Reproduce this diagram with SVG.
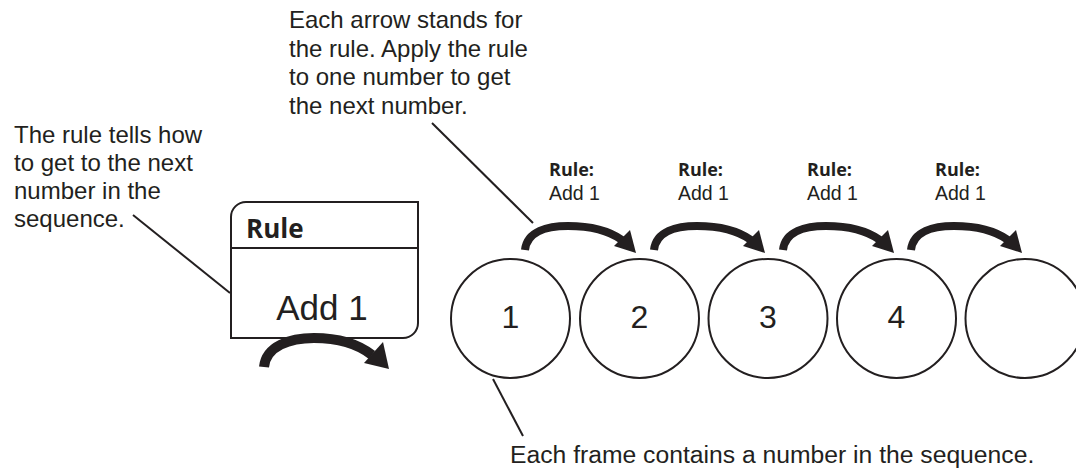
<svg xmlns="http://www.w3.org/2000/svg" width="1076" height="470" viewBox="0 0 1076 470">
<defs>
<style>
.txt{font-family:"Liberation Sans",Arial,sans-serif;fill:#231f20}
.note{font-size:24px}
.bold{font-family:"Open Sans","Noto Sans",sans-serif;font-weight:bold;fill:#231f20}
.num{font-family:"Liberation Sans",Arial,sans-serif;font-size:32px;fill:#231f20;text-anchor:middle}
.frame{fill:#fff;stroke:#231f20;stroke-width:2}
.lead{stroke:#231f20;stroke-width:2;fill:none}
.arc{fill:none;stroke:#231f20;stroke-width:8;stroke-linecap:butt}
.head{fill:#231f20}
</style>
<g id="ruleArrow">
<path class="arc" d="M525,250 C527,231 548,226 568,226 C590,226 608,230 622,240"/>
<polygon class="head" points="636,253 614,246 630,230"/>
</g>
</defs>

<g id="note-rule">
<text class="txt note" x="14" y="143">The rule tells how</text>
<text class="txt note" x="14" y="171">to get to the next</text>
<text class="txt note" x="14" y="199">number in the</text>
<text class="txt note" x="14" y="227">sequence.</text>
</g>

<g id="note-arrow">
<text class="txt note" x="289" y="28">Each arrow stands for</text>
<text class="txt note" x="289" y="56.5">the rule. Apply the rule</text>
<text class="txt note" x="289" y="85">to one number to get</text>
<text class="txt note" x="289" y="113.5">the next number.</text>
</g>

<g id="note-frame">
<text class="txt" x="510" y="463" font-size="24.7">Each frame contains a number in the sequence.</text>
</g>

<g id="rule-box">
<path class="frame" d="M231,217 A15,15 0 0 1 246,202 L418,202 L418,323 A15,15 0 0 1 403,338 L231,338 Z"/>
<line class="lead" x1="231" y1="248" x2="418" y2="248"/>
<text class="bold" x="246" y="238" font-size="26">Rule</text>
<text class="txt" x="322" y="320" font-size="35" text-anchor="middle">Add 1</text>
</g>

<g id="frames">
<g id="frame1"><circle class="frame" cx="510.5" cy="318.5" r="59.5"/><text class="num" x="510.5" y="328">1</text></g>
<g id="frame2"><circle class="frame" cx="639.5" cy="318.5" r="59.5"/><text class="num" x="639.5" y="328">2</text></g>
<g id="frame3"><circle class="frame" cx="768" cy="318.5" r="59.5"/><text class="num" x="768" y="328">3</text></g>
<g id="frame4"><circle class="frame" cx="896.5" cy="318.5" r="59.5"/><text class="num" x="896.5" y="328">4</text></g>
<g id="frame5"><circle class="frame" cx="1025" cy="318.5" r="59.5"/></g>
</g>

<g id="rule-labels">
<g id="label1"><text class="bold" x="549" y="176" font-size="18">Rule:</text><text class="txt" x="549" y="200" font-size="19.5">Add 1</text></g>
<g id="label2"><text class="bold" x="678" y="176" font-size="18">Rule:</text><text class="txt" x="678" y="200" font-size="19.5">Add 1</text></g>
<g id="label3"><text class="bold" x="807" y="176" font-size="18">Rule:</text><text class="txt" x="807" y="200" font-size="19.5">Add 1</text></g>
<g id="label4"><text class="bold" x="935" y="176" font-size="18">Rule:</text><text class="txt" x="935" y="200" font-size="19.5">Add 1</text></g>
</g>

<g id="connectors">
<line class="lead" x1="133" y1="215" x2="230" y2="293"/>
<line class="lead" x1="432" y1="123" x2="533" y2="223"/>
<line class="lead" x1="493" y1="379" x2="523" y2="436"/>
<use href="#ruleArrow"/>
<use href="#ruleArrow" transform="translate(129,0)"/>
<use href="#ruleArrow" transform="translate(258,0)"/>
<use href="#ruleArrow" transform="translate(386,0)"/>
<path class="arc" style="stroke-width:10" d="M264,367 C266,346 290,338 314,338 C340,338 358,344 372,355"/>
<polygon class="head" points="389,369 364,363 383,342"/>
</g>
</svg>
